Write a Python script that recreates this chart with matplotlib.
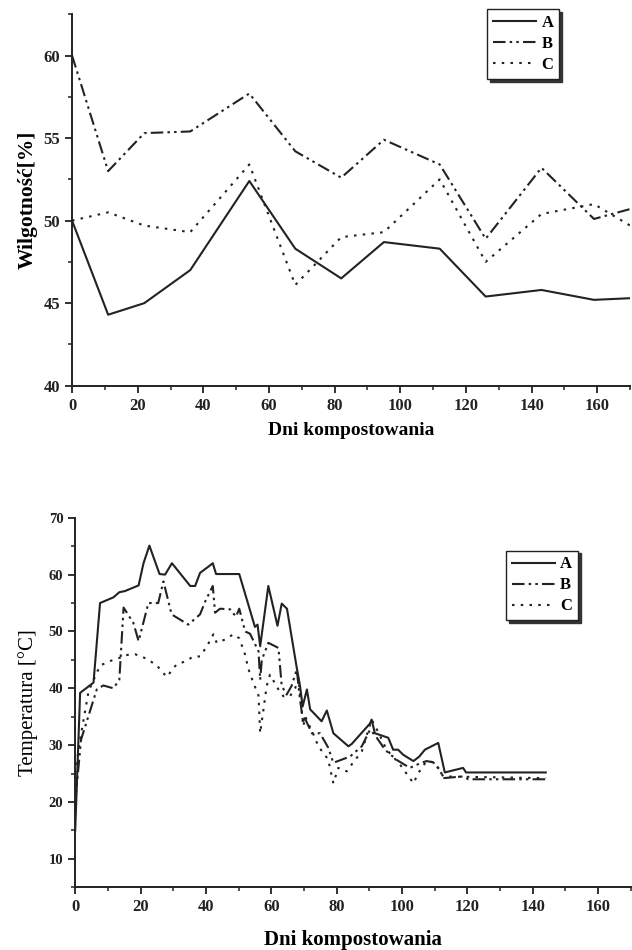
import numpy as np
import matplotlib.pyplot as plt
from matplotlib.ticker import MultipleLocator

plt.rcParams['font.family'] = ['Liberation Serif', 'DejaVu Serif']

# moisture (top)
days_m = [0, 11, 22, 36, 54, 68, 82, 95, 112, 126, 143, 159, 170]
moist_a = [50.0, 44.3, 45.0, 47.0, 52.4, 48.3, 46.5, 48.7, 48.3, 45.4, 45.8, 45.2, 45.3]
moist_b = [60.0, 53.0, 55.3, 55.4, 57.7, 54.2, 52.6, 54.9, 53.4, 48.9, 53.2, 50.1, 50.7]
moist_c = [50.0, 50.5, 49.7, 49.3, 53.4, 46.1, 49.0, 49.3, 52.5, 47.5, 50.4, 51.0, 49.7]

# temperature (bottom)
days_ta = [0, 1.5, 5.6, 7.6, 11.7, 13.5, 15.2, 19.4, 20.9, 22.7, 25.8, 27.5, 29.6, 35.2,
           36.7, 38.2, 40.3, 42.1, 43.1, 50.2, 55, 55.8, 56.6, 59.1, 61.9, 63.2, 64.8,
           67.8, 68.8, 69.6, 70.9, 71.9, 75.4, 77, 79, 83.6, 84.6, 90.2, 90.7, 91.7,
           95.8, 97.3, 98.8, 100.4, 103.5, 105.3, 107, 111.1, 113.1, 118.7, 119.6, 144]
temp_a = [15, 39.2, 41, 55, 56, 56.9, 57.1, 58.1, 62, 65.1, 60.1, 60, 62, 58,
          58, 60.3, 61.2, 62, 60.1, 60.1, 50.8, 51.2, 47.4, 58, 51, 54.9, 54,
          43.6, 40.4, 36.8, 39.8, 36.3, 34.2, 36.1, 32.1, 29.8, 30.2, 33.8, 34.5, 32.1,
          31.3, 29.2, 29.2, 28.3, 27.2, 28, 29.2, 30.4, 25.2, 26, 25.2, 25.2]

days_tb = [0, 1.8, 6.6, 8.6, 11.7, 13.5, 14.8, 17.8, 19.4, 22.4, 25.4, 27, 29.5, 34.6,
           38.2, 39.8, 42.1, 42.8, 44.3, 47.4, 49.2, 50.2, 52, 53.5, 56.1, 56.6, 57.1,
           59.1, 62.2, 63.2, 64.7, 66.2, 67.8, 68.8, 69.8, 70, 72.4, 74.9, 77.4, 79,
           84.1, 87.7, 90.2, 91.7, 94.8, 98.4, 102.4, 105.5, 107.5, 109.5, 111.6, 112.6,
           118.7, 120.3, 144]
temp_b = [20, 31, 39.8, 40.5, 40, 41.5, 54.2, 51.5, 48.3, 55, 55, 58.8, 53, 51.2,
          53, 55.3, 58, 53.3, 54, 53.9, 52.6, 54, 50, 49.6, 46.5, 41.5, 45,
          48, 47.1, 40.4, 38.9, 40.4, 43.3, 38, 33.9, 35.1, 32.1, 32.1, 29.6, 26.9,
          28, 29.8, 32.7, 31.8, 29.2, 27.4, 26, 26.8, 27.2, 27, 25.7, 24.2,
          24.5, 24, 24]

days_tc = [0, 1.5, 4.1, 7.6, 10.7, 13.8, 14.8, 18.3, 21.9, 25, 28, 31, 34, 36.1,
           38.2, 40.3, 42.3, 43.3, 45.9, 48.4, 50.2, 52, 53, 54.5, 56.1, 56.6, 58.6,
           59.6, 62.2, 63.7, 65.7, 67.3, 68.3, 69.8, 70.4, 72.9, 74.4, 77.4, 79, 80.5,
           83.1, 84.6, 87.7, 90.7, 92.8, 95.3, 99.4, 103.5, 105, 107.5, 109.5, 111, 112.6, 144]
temp_c = [25, 31, 39.5, 44, 44.8, 45.4, 45.8, 46, 45.2, 44, 42, 44.2, 44.8, 45.6,
          45.6, 47.4, 49.5, 48, 48.6, 49.5, 48.8, 45.9, 43.4, 41, 38.7, 32.1, 40.4,
          42.4, 39.8, 38.6, 38.6, 40, 41.8, 33.3, 35, 31.9, 29.8, 27.5, 23.3, 26,
          25.4, 26.6, 28.9, 34.5, 32.2, 29.2, 26.6, 23.3, 25.1, 27.2, 27, 26, 24.5, 24.2]

styles = {'A': '-', 'B': (0, (6, 2, 1.2, 2, 1.2, 2)), 'C': (0, (1.2, 3))}

fig = plt.figure(figsize=(6.32, 9.5), dpi=100)
ax1 = fig.add_axes([0.114, 0.594, 0.883, 0.391])
ax2 = fig.add_axes([0.119, 0.066, 0.879, 0.389])

bold = {'fontweight': 'bold'}

ax1.plot(days_m, moist_a, color='#222222', lw=1.5, ls=styles['A'], label='A')
ax1.plot(days_m, moist_b, color='#222222', lw=1.5, ls=styles['B'], label='B')
ax1.plot(days_m, moist_c, color='#222222', lw=1.5, ls=styles['C'], label='C')
ax1.set_xlim(0, 170)
ax1.set_ylim(40, 62.5)
ax1.xaxis.set_major_locator(MultipleLocator(20))
ax1.xaxis.set_minor_locator(MultipleLocator(10))
ax1.yaxis.set_major_locator(MultipleLocator(5))
ax1.yaxis.set_minor_locator(MultipleLocator(2.5))
ax1.set_xlabel('Dni kompostowania', fontsize=14, labelpad=6, **bold)
ax1.set_ylabel('Wilgotność[%]', fontsize=15.5, labelpad=4, **bold)

ax2.plot(days_ta, temp_a, color='#222222', lw=1.5, ls=styles['A'], label='A')
ax2.plot(days_tb, temp_b, color='#222222', lw=1.5, ls=styles['B'], label='B')
ax2.plot(days_tc, temp_c, color='#222222', lw=1.5, ls=styles['C'], label='C')
ax2.set_xlim(0, 170)
ax2.set_ylim(5, 70)
ax2.xaxis.set_major_locator(MultipleLocator(20))
ax2.xaxis.set_minor_locator(MultipleLocator(10))
ax2.yaxis.set_minor_locator(MultipleLocator(5))
ax2.set_yticks([10, 20, 30, 40, 50, 60, 70])
ax2.set_xlabel('Dni kompostowania', fontsize=15, labelpad=11, **bold)
ax2.set_ylabel('Temperatura [°C]', fontsize=15, labelpad=8)

for ax in (ax1, ax2):
    for s in ['top', 'right']:
        ax.spines[s].set_visible(False)
    for s in ['left', 'bottom']:
        ax.spines[s].set_linewidth(1.4)
        ax.spines[s].set_color('#222222')
    ax.tick_params(which='major', direction='out', length=5, width=1.3, colors='#222222')
    ax.tick_params(which='minor', direction='out', length=3, width=1.1, colors='#222222')

ax1.tick_params(axis='both', which='major', labelsize=12)
ax2.tick_params(axis='x', which='major', labelsize=12)
ax2.tick_params(axis='y', which='major', labelsize=10.5)
for ax in (ax1, ax2):
    for lab in ax.get_xticklabels() + ax.get_yticklabels():
        lab.set_fontweight('bold')

leg_kw = dict(frameon=True, fancybox=False, edgecolor='#222222', framealpha=1,
              shadow={'color': '#333333', 'alpha': 1}, handlelength=2.6,
              handletextpad=0.3, labelspacing=0.3, borderpad=0.35, borderaxespad=0,
              prop={'weight': 'bold', 'size': 12})
l1 = ax1.legend(loc='upper left', bbox_to_anchor=(0.744, 1.013), **leg_kw)
l2 = ax2.legend(loc='upper left', bbox_to_anchor=(0.775, 0.911), **leg_kw)
for l in (l1, l2):
    l.get_frame().set_linewidth(1.0)

fig.savefig('out.png', dpi=100)
